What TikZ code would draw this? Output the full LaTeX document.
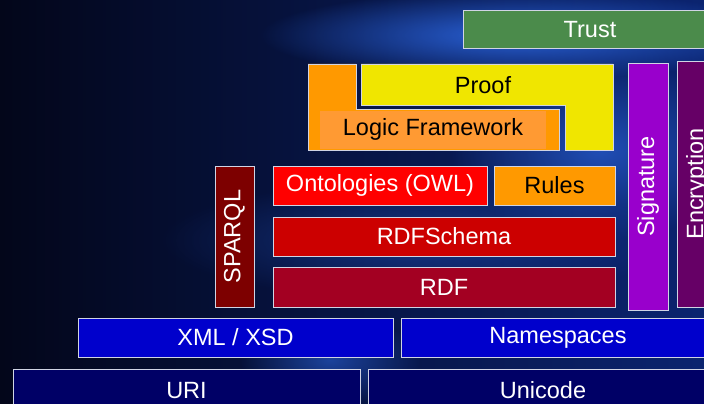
\documentclass[tikz,border=0pt]{standalone}
\usepackage{fontspec}
\setmainfont{Liberation Sans}
\usetikzlibrary{fadings}

\definecolor{bgdark}{HTML}{03061A}
\definecolor{bgmid}{HTML}{0B2470}
\definecolor{bglight}{HTML}{2A62D8}
\definecolor{trustgreen}{HTML}{4B8B4B}
\definecolor{proofyellow}{HTML}{F0E600}
\definecolor{logicorange}{HTML}{FF9A33}
\definecolor{ruleorange}{HTML}{FF9900}
\definecolor{owlred}{HTML}{FF0000}
\definecolor{schemared}{HTML}{CC0000}
\definecolor{rdfred}{HTML}{A30022}
\definecolor{sparqlred}{HTML}{7D0000}
\definecolor{sigpurple}{HTML}{9900CC}
\definecolor{encpurple}{HTML}{660066}
\definecolor{xmlblue}{HTML}{0000CC}
\definecolor{uriblue}{HTML}{000066}
\definecolor{edge}{HTML}{D0D4E4}

\tikzfading[name=glow, inner color=transparent!0, outer color=transparent!100]

\begin{document}
\begin{tikzpicture}[
    x=1pt, y=-1pt,
    layer/.style={rectangle, draw=edge, line width=0.8pt, inner sep=0pt, text=white,
        font=\fontsize{23.5}{28}\selectfont},
    darktext/.style={text=black},
    upright/.style={rotate=90}
]
    \useasboundingbox (0,0) rectangle (704,404);
    \clip (0,0) rectangle (704,404);

    % Background
    \shade[left color=bgdark, right color=bgmid] (0,0) rectangle (704,404);
    \fill[bglight, path fading=glow] (520,35) ellipse (260pt and 45pt);
    \fill[bglight, path fading=glow, opacity=0.7] (600,150) ellipse (150pt and 90pt);
    \fill[bglight, path fading=glow, opacity=0.6] (330,360) ellipse (90pt and 45pt);
    \fill[bglight, path fading=glow, opacity=0.4] (420,240) ellipse (260pt and 60pt);

    % Trust
    \node[layer, fill=trustgreen, minimum width=254pt, minimum height=38pt] (trust) at (590,29.5) {Trust};

    % Proof and logic framework
    \draw[edge, line width=0.8pt, fill=ruleorange] (308,64) -- (356,64) -- (356,109) -- (559,109)
        -- (559,150) -- (308,150) -- cycle;
    \draw[edge, line width=0.8pt, fill=proofyellow] (361,64) -- (613,64) -- (613,150) -- (565,150)
        -- (565,105) -- (361,105) -- cycle;
    \node[layer, draw=none, darktext] (proof) at (483,85.5) {Proof};
    \node[layer, draw=none, darktext, fill=logicorange, minimum width=226pt, minimum height=38pt] (logic) at (433,129.5) {Logic Framework};

    % Ontology stack
    \node[layer, upright, fill=sparqlred, minimum width=141pt, minimum height=39pt] (sparql) at (234.5,236.5) {SPARQL};
    \node[layer, fill=owlred, minimum width=214pt, minimum height=39pt] (owl) at (380,185.5) {Ontologies (OWL)};
    \node[layer, darktext, fill=ruleorange, minimum width=121pt, minimum height=39pt] (rules) at (554.5,185.5) {Rules};
    \node[layer, fill=schemared, minimum width=342pt, minimum height=39pt] (rdfs) at (444,236.5) {RDFSchema};
    \node[layer, fill=rdfred, minimum width=342pt, minimum height=40pt] (rdf) at (444,287) {RDF};

    % Signature and encryption
    \node[layer, upright, fill=sigpurple, minimum width=247pt, minimum height=40pt] (sig) at (648,186.5) {Signature};
    \node[layer, upright, fill=encpurple, minimum width=246pt, minimum height=40pt] (enc) at (697,184) {Encryption};

    % Syntax and base
    \node[layer, fill=xmlblue, minimum width=315pt, minimum height=39pt] (xml) at (235.5,337.5) {XML / XSD};
    \node[layer, fill=xmlblue, minimum width=314pt, minimum height=39pt] (ns) at (558,337.5) {Namespaces};
    \node[layer, fill=uriblue, minimum width=347pt, minimum height=43pt] (uri) at (186.5,390.5) {URI};
    \node[layer, fill=uriblue, minimum width=350pt, minimum height=43pt] (unicode) at (543,390.5) {Unicode};
\end{tikzpicture}
\end{document}
